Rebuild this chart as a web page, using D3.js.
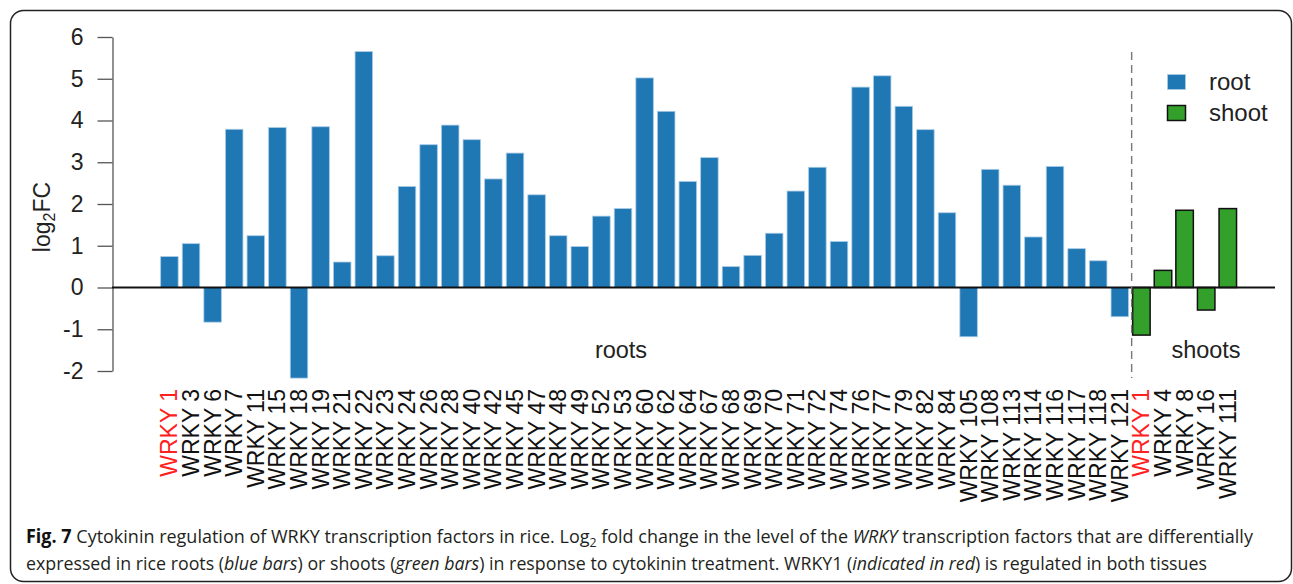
<!DOCTYPE html>
<html>
<head>
<meta charset="utf-8">
<script src="https://cdn.jsdelivr.net/npm/d3@7"></script>
<style>
  html, body { margin: 0; padding: 0; background: #fff; }
  svg { display: block; }
</style>
</head>
<body>
<svg id="chart" width="1293" height="584"></svg>
<script>
// log2 fold change values
var rootGenes = ['WRKY 1', 'WRKY 3', 'WRKY 6', 'WRKY 7', 'WRKY 11', 'WRKY 15', 'WRKY 18', 'WRKY 19',
  'WRKY 21', 'WRKY 22', 'WRKY 23', 'WRKY 24', 'WRKY 26', 'WRKY 28', 'WRKY 40', 'WRKY 42', 'WRKY 45',
  'WRKY 47', 'WRKY 48', 'WRKY 49', 'WRKY 52', 'WRKY 53', 'WRKY 60', 'WRKY 62', 'WRKY 64', 'WRKY 67',
  'WRKY 68', 'WRKY 69', 'WRKY 70', 'WRKY 71', 'WRKY 72', 'WRKY 74', 'WRKY 76', 'WRKY 77', 'WRKY 79',
  'WRKY 82', 'WRKY 84', 'WRKY 105', 'WRKY 108', 'WRKY 113', 'WRKY 114', 'WRKY 116', 'WRKY 117',
  'WRKY 118', 'WRKY 121'];
var rootValues = [0.74, 1.05, -0.83, 3.79, 1.24, 3.83, -2.17, 3.85,
  0.61, 5.65, 0.76, 2.42, 3.42, 3.89, 3.54, 2.60, 3.22,
  2.22, 1.24, 0.98, 1.71, 1.89, 5.02, 4.22, 2.54, 3.11,
  0.50, 0.77, 1.30, 2.31, 2.88, 1.10, 4.80, 5.07, 4.34,
  3.78, 1.79, -1.18, 2.83, 2.45, 1.21, 2.90, 0.93,
  0.64, -0.70];
var shootGenes = ['WRKY 1', 'WRKY 4', 'WRKY 8', 'WRKY 16', 'WRKY 111'];
var shootValues = [-1.14, 0.41, 1.85, -0.54, 1.89];
var highlighted = ['WRKY 1'];
var yTicks = [-2, -1, 0, 1, 2, 3, 4, 5, 6];

var blue = '#1f77b4', green = '#33a02c';

var bars = [];
rootGenes.forEach(function(g, i) {
  bars.push({key: 'root-' + i, gene: g, value: rootValues[i], tissue: 'root'});
});
shootGenes.forEach(function(g, i) {
  bars.push({key: 'shoot-' + i, gene: g, value: shootValues[i], tissue: 'shoot'});
});

var svg = d3.select('#chart');

// outer frame
svg.append('rect')
  .attr('x', 10.5).attr('y', 10.5)
  .attr('width', 1281).attr('height', 571)
  .attr('rx', 13)
  .attr('fill', 'none').attr('stroke', '#222').attr('stroke-width', 1.5);

var x = d3.scaleBand()
  .domain(bars.map(function(d) { return d.key; }))
  .range([158.5, 1238.7])
  .paddingInner(0.19)
  .paddingOuter(0.1);

var y = d3.scaleLinear().domain([-2, 6]).range([371, 37]);

// y axis (plain hyphen for negatives, like the original)
var yAxis = svg.append('g')
  .attr('transform', 'translate(112.5,0)')
  .call(d3.axisLeft(y).tickValues(yTicks).tickFormat(function(d) { return String(d); })
    .tickSize(15).tickSizeOuter(0).tickPadding(14));
yAxis.select('.domain').attr('stroke', '#555').attr('stroke-width', 1.3);
yAxis.selectAll('.tick line').attr('stroke', '#555').attr('stroke-width', 1.3);
yAxis.selectAll('.tick text')
  .attr('font-family', 'Liberation Sans, Arial, sans-serif')
  .attr('font-size', 23).attr('fill', '#222');

var yLabel = svg.append('text')
  .attr('transform', 'translate(50,217) rotate(-90)')
  .attr('text-anchor', 'middle')
  .attr('font-family', 'Liberation Sans, Arial, sans-serif')
  .attr('font-size', 23).attr('fill', '#222');
yLabel.append('tspan').text('log');
yLabel.append('tspan').attr('font-size', 16).attr('dy', 5).text('2');
yLabel.append('tspan').attr('dy', -5).text('FC');

// bars
svg.append('g').selectAll('rect')
  .data(bars)
  .join('rect')
  .attr('x', function(d) { return x(d.key); })
  .attr('width', x.bandwidth())
  .attr('y', function(d) { return y(Math.max(0, d.value)); })
  .attr('height', function(d) { return Math.abs(y(d.value) - y(0)); })
  .attr('fill', function(d) { return d.tissue === 'root' ? blue : green; })
  .attr('stroke', function(d) { return d.tissue === 'root' ? '#a9cbe6' : '#111'; })
  .attr('stroke-width', function(d) { return d.tissue === 'root' ? 0.8 : 1.5; });

// zero line
svg.append('line')
  .attr('x1', 112).attr('x2', 1275)
  .attr('y1', y(0)).attr('y2', y(0))
  .attr('stroke', '#111').attr('stroke-width', 2);

// separator between roots and shoots
var sepX = x('shoot-0') - 1;
svg.append('line')
  .attr('x1', sepX).attr('x2', sepX)
  .attr('y1', 52).attr('y2', 378)
  .attr('stroke', '#777').attr('stroke-width', 1.4)
  .attr('stroke-dasharray', '8,5');

// group labels
svg.append('text').attr('x', 621).attr('y', 358).attr('text-anchor', 'middle')
  .attr('font-family', 'Liberation Sans, Arial, sans-serif').attr('font-size', 23.5)
  .attr('fill', '#222').text('roots');
svg.append('text').attr('x', 1206).attr('y', 358).attr('text-anchor', 'middle')
  .attr('font-family', 'Liberation Sans, Arial, sans-serif').attr('font-size', 23.5)
  .attr('fill', '#222').text('shoots');

// gene labels
svg.append('g').selectAll('text')
  .data(bars)
  .join('text')
  .attr('transform', function(d) {
    return 'translate(' + (x(d.key) + x.bandwidth() / 2) + ',389) rotate(-90)';
  })
  .attr('text-anchor', 'end')
  .attr('dy', '0.35em')
  .attr('font-family', 'Liberation Sans, Arial, sans-serif')
  .attr('font-size', 23)
  .attr('fill', function(d) { return highlighted.indexOf(d.gene) >= 0 ? '#ff2020' : '#111'; })
  .text(function(d) { return d.gene; });

// legend
var legend = svg.append('g');
[['root', blue, '#a9cbe6', 74], ['shoot', green, '#111', 105]].forEach(function(l) {
  legend.append('rect').attr('x', 1167.5).attr('y', l[3] + 0.5).attr('width', 18).attr('height', 15)
    .attr('fill', l[1]).attr('stroke', l[2]).attr('stroke-width', l[0] === 'root' ? 0.8 : 1.5);
  legend.append('text').attr('x', 1209).attr('y', l[3] + 16)
    .attr('font-family', 'Liberation Sans, Arial, sans-serif').attr('font-size', 24)
    .attr('fill', '#222').text(l[0]);
});

// caption
var capFont = 'Open Sans, Noto Sans, sans-serif';
function captionLine(yPos, width, parts) {
  var g = svg.append('g');
  var t = g.append('text').attr('x', 0).attr('y', 0)
    .attr('font-family', capFont).attr('font-size', 19).attr('fill', '#231f20');
  parts.forEach(function(p) {
    var s = t.append('tspan').text(p.t);
    if (p.b) s.attr('font-weight', 'bold').attr('fill', '#111');
    if (p.i) s.attr('font-style', 'italic');
    if (p.sub) s.attr('font-size', 13).attr('dy', 4);
    if (p.up) s.attr('dy', -4);
  });
  var w = t.node().getComputedTextLength();
  g.attr('transform', 'translate(26,' + yPos + ') scale(' + (width / w) + ',1)');
}
captionLine(543, 1227, [
  {t: 'Fig. 7', b: true},
  {t: ' Cytokinin regulation of WRKY transcription factors in rice. Log'},
  {t: '2', sub: true},
  {t: ' fold change in the level of the ', up: true},
  {t: 'WRKY', i: true},
  {t: ' transcription factors that are differentially'}
]);
captionLine(570, 1182, [
  {t: 'expressed in rice roots ('},
  {t: 'blue bars', i: true},
  {t: ') or shoots ('},
  {t: 'green bars', i: true},
  {t: ') in response to cytokinin treatment. WRKY1 ('},
  {t: 'indicated in red', i: true},
  {t: ') is regulated in both tissues'}
]);
</script>
</body>
</html>
